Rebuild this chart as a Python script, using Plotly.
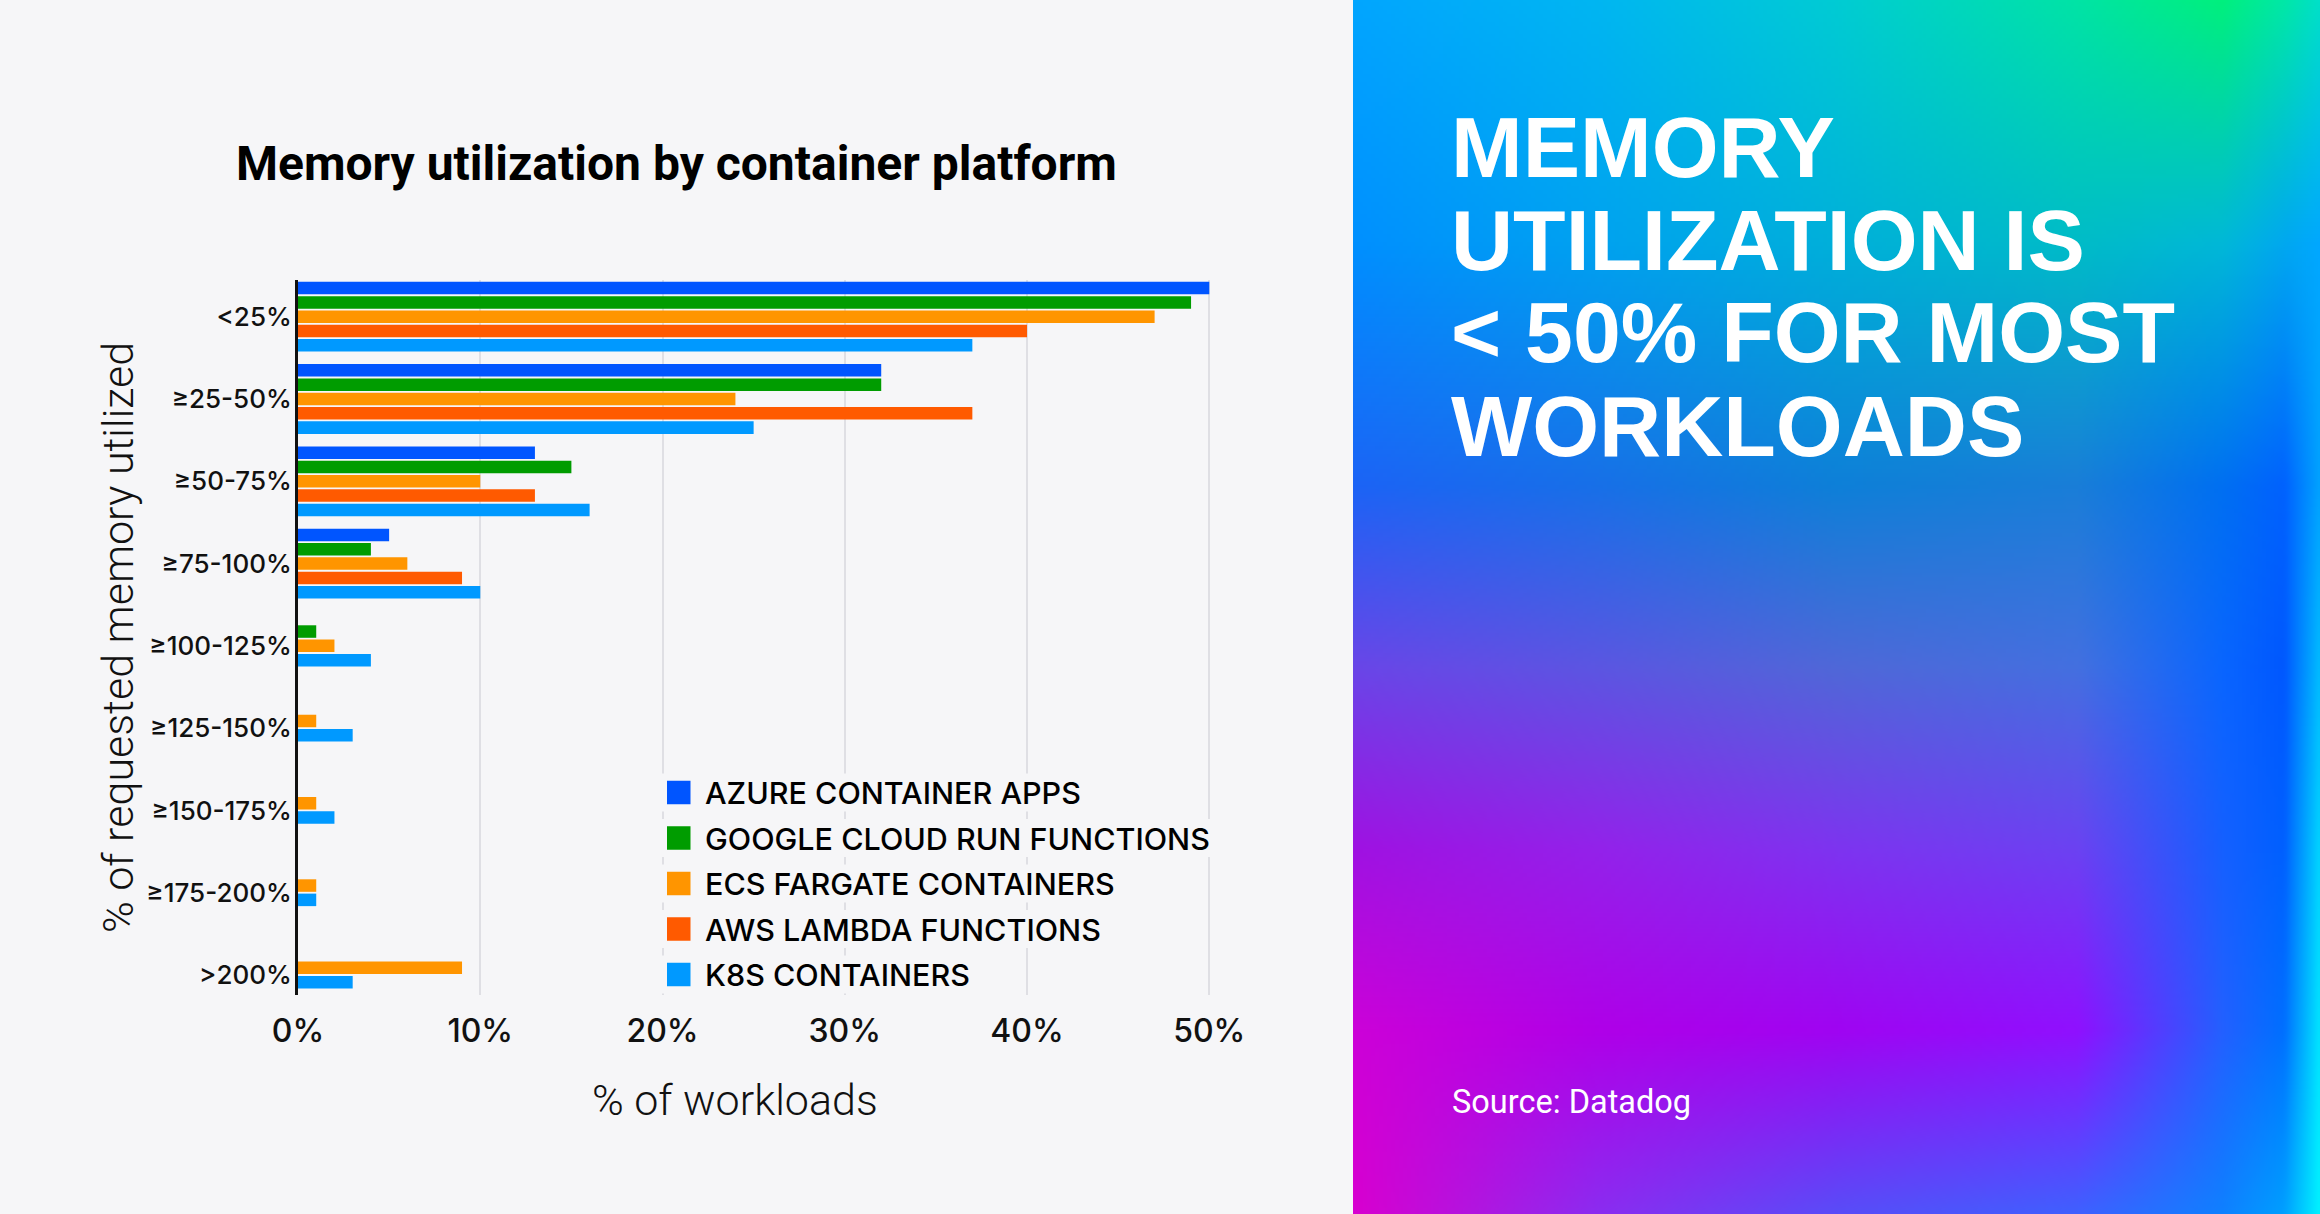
import base64
import struct
import zlib

import numpy as np
import plotly.graph_objects as go

# ---------------- data ----------------
categories = ["<25%", "≥25-50%", "≥50-75%", "≥75-100%", "≥100-125%",
              "≥125-150%", "≥150-175%", "≥175-200%", ">200%"]
series_names = ["AZURE CONTAINER APPS", "GOOGLE CLOUD RUN FUNCTIONS",
                "ECS FARGATE CONTAINERS", "AWS LAMBDA FUNCTIONS", "K8S CONTAINERS"]
azure = [50, 32, 13, 5, 0, 0, 0, 0, 0]
google = [49, 32, 15, 4, 1, 0, 0, 0, 0]
ecs = [47, 24, 10, 6, 2, 1, 1, 1, 9]
aws = [40, 37, 13, 9, 0, 0, 0, 0, 0]
k8s = [37, 25, 16, 10, 4, 3, 2, 1, 3]
series_values = [azure, google, ecs, aws, k8s]
x_ticks = [0, 10, 20, 30, 40, 50]
x_tick_labels = ["0%", "10%", "20%", "30%", "40%", "50%"]

# ---------------- style ----------------
W, H = 2320, 1214
colors = ["#0055FF", "#009C00", "#FF9500", "#FF5A00", "#0099FF"]
BG = "#F6F6F8"
BAR_W = 0.152
BAR_PITCH = 0.174


def fx(p):
    return p / W


def fy(p):
    return 1 - p / H


# --- gradient panel image (decorative background) ---
def hexrgb(h):
    h = h.lstrip("#")
    return [int(h[i:i + 2], 16) for i in (0, 2, 4)]


grid_rows = [0.0, 0.2, 0.4, 0.55, 0.7, 0.85, 1.0]
grid_cols = [0.0, 0.25, 0.5, 0.75, 0.9, 0.965, 1.0]
grid_colors = [
    ["#02A6FF", "#00B6F2", "#00CCD4", "#00E4A6", "#00F07E", "#00E8A8", "#00E0C8"],
    ["#0090FF", "#00A2F0", "#00B0DA", "#00BCC8", "#00B8D8", "#00A8F0", "#00A8FF"],
    ["#1C64F6", "#1870E8", "#0E80D8", "#1A7ED8", "#0070F2", "#0062FF", "#00A0FF"],
    ["#6A46E8", "#5C56E2", "#5068D8", "#4470E0", "#0A66FF", "#0058FF", "#00B8FF"],
    ["#A012E2", "#9422EA", "#7E34F0", "#6C42F2", "#1660FF", "#0060FF", "#00D0FF"],
    ["#CC02D8", "#B000E8", "#A004F2", "#9010FF", "#2460FF", "#0070FF", "#00E0FF"],
    ["#D800D0", "#8C2CF0", "#5A4CF8", "#4060FF", "#1080FF", "#00A0FF", "#00F0FF"],
]
gc = np.array([[hexrgb(c) for c in row] for row in grid_colors], dtype=float)
IW, IH = 242, 304
ys = np.linspace(0, 1, IH)
xs = np.linspace(0, 1, IW)
tmp = np.zeros((len(grid_rows), IW, 3))
for r in range(len(grid_rows)):
    for ch in range(3):
        tmp[r, :, ch] = np.interp(xs, grid_cols, gc[r, :, ch])
img = np.zeros((IH, IW, 3))
for ch in range(3):
    for cidx in range(IW):
        img[:, cidx, ch] = np.interp(ys, grid_rows, tmp[:, cidx, ch])
img = np.clip(img, 0, 255).astype(np.uint8)


def png_uri(a):
    h, w, _ = a.shape
    raw = b"".join(b"\x00" + a[i].tobytes() for i in range(h))

    def chunk(t, d):
        c = struct.pack(">I", len(d)) + t + d
        return c + struct.pack(">I", zlib.crc32(t + d) & 0xFFFFFFFF)

    data = b"\x89PNG\r\n\x1a\n" + chunk(b"IHDR", struct.pack(">IIBBBBB", w, h, 8, 2, 0, 0, 0)) \
        + chunk(b"IDAT", zlib.compress(raw, 9)) + chunk(b"IEND", b"")
    return "data:image/png;base64," + base64.b64encode(data).decode()


# ---------------- figure ----------------
fig = go.Figure()

# bar offsets: present bars in each category are centred around the category
offsets = [[None] * len(categories) for _ in series_values]
for j in range(len(categories)):
    present = [i for i, s in enumerate(series_values) if s[j] > 0]
    n = len(present)
    for k, i in enumerate(present):
        centre = (k - (n - 1) / 2) * BAR_PITCH
        offsets[i][j] = centre - BAR_W / 2

for i, (name, vals) in enumerate(zip(series_names, series_values)):
    xv = [v if v > 0 else None for v in vals]
    off = [o if o is not None else 0 for o in offsets[i]]
    fig.add_trace(go.Bar(
        y=categories, x=xv, orientation="h", name=name,
        marker=dict(color=colors[i], line=dict(width=0)),
        width=[BAR_W] * len(categories), offset=off,
        showlegend=False, hoverinfo="x+y+name",
    ))

x0_px, x1_px = 298.0, 1218.4
y0_px, y1_px = 280.0, 995.0

fig.update_layout(
    width=W, height=H,
    margin=dict(l=0, r=0, t=0, b=0, pad=0),
    paper_bgcolor=BG, plot_bgcolor=BG,
    barmode="overlay",
    showlegend=False,
    xaxis=dict(
        domain=[fx(x0_px), fx(x1_px)], range=[0, 50.5], automargin=False,
        tickvals=x_ticks, ticktext=x_tick_labels,
        showgrid=True, gridcolor="#DFDFE4", gridwidth=2,
        zeroline=False, showline=False, ticks="",
        tickfont=dict(family="Inter", size=32, color="#111111", weight=500),
        ticklabelstandoff=14,
    ),
    yaxis=dict(
        domain=[fy(y1_px), fy(y0_px)], automargin=False,
        type="category", categoryorder="array", categoryarray=categories,
        range=[8.243, -0.446],
        showgrid=False, zeroline=False,
        showline=True, linecolor="#111111", linewidth=3,
        ticks="",
        tickfont=dict(family="Inter", size=26, color="#111111", weight=500),
        ticklabelstandoff=-2,
    ),
)

fig.add_layout_image(dict(
    source=png_uri(img), xref="paper", yref="paper",
    x=fx(1353), y=1, sizex=fx(W - 1353), sizey=1,
    xanchor="left", yanchor="top", sizing="stretch", layer="below",
))

annotations = []
# chart title
annotations.append(dict(
    text="Memory utilization by container platform", x=fx(676), y=fy(163),
    xref="paper", yref="paper", showarrow=False, xanchor="center", yanchor="middle",
    font=dict(family="Roboto", size=48, color="#000000", weight=700),
))
# axis titles
annotations.append(dict(
    text="% of workloads", x=fx(735), y=fy(1100),
    xref="paper", yref="paper", showarrow=False, xanchor="center", yanchor="middle",
    font=dict(family="Roboto", size=43, color="#111111", weight=300),
))
annotations.append(dict(
    text="% of requested memory utilized", x=fx(118), y=fy(638), textangle=-90,
    xref="paper", yref="paper", showarrow=False, xanchor="center", yanchor="middle",
    font=dict(family="Roboto", size=43, color="#111111", weight=300),
))

# legend (custom, large swatches)
shapes = []
LEG_X, LEG_Y, LEG_PITCH, SW = 667, 792.5, 45.5, 23.5
for i, name in enumerate(series_names):
    cy = LEG_Y + i * LEG_PITCH
    text_w = len(name) * 0.68 * 30.5
    shapes.append(dict(type="rect", xref="paper", yref="paper",
                       x0=fx(LEG_X - 6), x1=fx(LEG_X + 38 + text_w + 8),
                       y0=fy(cy - 19), y1=fy(cy + 19),
                       fillcolor=BG, line=dict(width=0), layer="above"))
for i, name in enumerate(series_names):
    cy = LEG_Y + i * LEG_PITCH
    shapes.append(dict(type="rect", xref="paper", yref="paper",
                       x0=fx(LEG_X), x1=fx(LEG_X + SW),
                       y0=fy(cy - SW / 2), y1=fy(cy + SW / 2),
                       fillcolor=colors[i], line=dict(width=0), layer="above"))
    annotations.append(dict(
        text=name, x=fx(LEG_X + 36), y=fy(cy),
        xref="paper", yref="paper", showarrow=False, xanchor="left", yanchor="middle",
        font=dict(family="Inter", size=30.5, color="#000000", weight=500),
    ))

# right panel headline
headline = ["MEMORY", "UTILIZATION IS", "< 50% FOR MOST", "WORKLOADS"]
for k, line in enumerate(headline):
    annotations.append(dict(
        text=line, x=fx(1449), y=fy(146.5 + 93 * k),
        xref="paper", yref="paper", showarrow=False, xanchor="left", yanchor="middle",
        font=dict(family="Liberation Sans", size=86, color="#FFFFFF", weight=700),
    ))
annotations.append(dict(
    text="Source: Datadog", x=fx(1450), y=fy(1102),
    xref="paper", yref="paper", showarrow=False, xanchor="left", yanchor="middle",
    font=dict(family="Roboto", size=32.5, color="#FFFFFF", weight=400),
))

fig.update_layout(annotations=annotations, shapes=shapes)
fig.write_html("out.html", config={"displayModeBar": False},
               post_script="document.body.style.margin='0';document.body.style.overflow='hidden';")
